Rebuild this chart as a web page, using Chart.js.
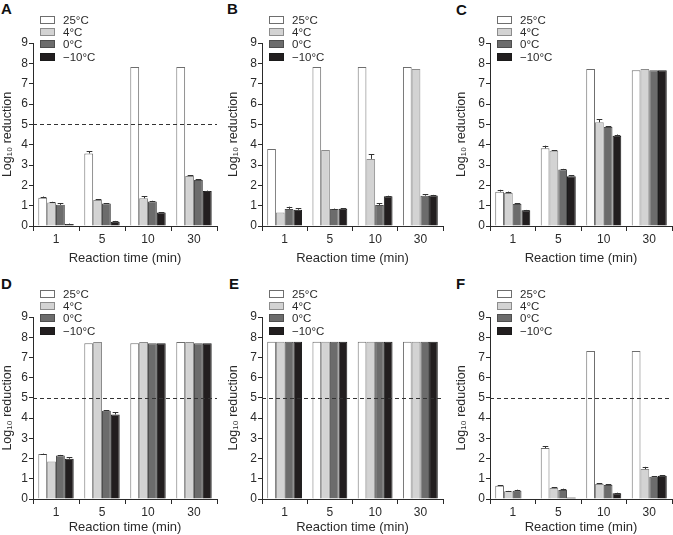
<!DOCTYPE html>
<html><head><meta charset="utf-8">
<script src="https://cdn.jsdelivr.net/npm/chart.js@4"></script>
<style>
html,body{margin:0;padding:0;background:#fff}
body{width:673px;height:535px;position:relative;overflow:hidden;font-family:"Liberation Sans",Arial,sans-serif}
canvas{position:absolute}
.lbl{position:absolute;font-weight:bold;font-size:15px;line-height:1;color:#111}
</style></head><body>
<div class="lbl" style="left:1px;top:1px">A</div>
<div class="lbl" style="left:227px;top:1px">B</div>
<div class="lbl" style="left:456px;top:2px">C</div>
<div class="lbl" style="left:1px;top:276px">D</div>
<div class="lbl" style="left:229px;top:276px">E</div>
<div class="lbl" style="left:456px;top:276px">F</div>
<canvas id="cA" width="224" height="267" style="left:0;top:0"></canvas>
<canvas id="cB" width="224" height="267" style="left:224px;top:0"></canvas>
<canvas id="cC" width="225" height="267" style="left:448px;top:0"></canvas>
<canvas id="cD" width="224" height="268" style="left:0;top:267px"></canvas>
<canvas id="cE" width="224" height="268" style="left:224px;top:267px"></canvas>
<canvas id="cF" width="225" height="268" style="left:448px;top:267px"></canvas>
<script>
// ---- data ----
const categories = ['1', '5', '10', '30'];
const seriesLabels = ['25°C', '4°C', '0°C', '−10°C'];
const yTicks = [0, 1, 2, 3, 4, 5, 6, 7, 8, 9];
const xTitle = 'Reaction time (min)';
const yTitle = 'Log₁₀ reduction';
const threshold = 5;

// Panel A
const A_25 = [1.39, 3.57, 7.82, 7.82];
const A_4 = [1.16, 1.28, 1.36, 2.46];
const A_0 = [1.04, 1.11, 1.21, 2.26];
const A_m10 = [0.10, 0.21, 0.66, 1.72];
const A_err25 = [0.06, 0.11, 0, 0];
const A_err4 = [0.03, 0.04, 0.11, 0.04];
const A_err0 = [0.07, 0.02, 0.03, 0.03];
const A_errm10 = [0.02, 0.04, 0.02, 0.02];
// Panel B
const B_25 = [3.79, 7.82, 7.82, 7.82];
const B_4 = [0.67, 3.74, 3.30, 7.72];
const B_0 = [0.84, 0.84, 1.03, 1.49];
const B_m10 = [0.80, 0.85, 1.46, 1.50];
const B_err25 = [0, 0, 0, 0];
const B_err4 = [0, 0, 0.23, 0];
const B_err0 = [0.11, 0.02, 0.08, 0.08];
const B_errm10 = [0.08, 0.03, 0.03, 0.03];
// Panel C
const C_25 = [1.69, 3.82, 7.72, 7.66];
const C_4 = [1.62, 3.70, 5.10, 7.72];
const C_0 = [1.08, 2.78, 4.87, 7.66];
const C_m10 = [0.77, 2.45, 4.44, 7.66];
const C_err25 = [0.09, 0.13, 0, 0];
const C_err4 = [0.07, 0.03, 0.14, 0];
const C_err0 = [0.03, 0.03, 0.03, 0];
const C_errm10 = [0.02, 0.04, 0.06, 0];
// Panel D
const D_25 = [2.23, 7.70, 7.70, 7.76];
const D_4 = [1.85, 7.76, 7.76, 7.76];
const D_0 = [2.15, 4.36, 7.70, 7.70];
const D_m10 = [1.99, 4.18, 7.70, 7.70];
const D_err25 = [0.02, 0, 0, 0];
const D_err4 = [0, 0, 0, 0];
const D_err0 = [0.03, 0.03, 0, 0];
const D_errm10 = [0.08, 0.10, 0, 0];
// Panel E
const E_25 = [7.78, 7.78, 7.78, 7.78];
const E_4 = [7.78, 7.78, 7.78, 7.78];
const E_0 = [7.78, 7.78, 7.78, 7.78];
const E_m10 = [7.78, 7.78, 7.78, 7.78];
const E_err = [0, 0, 0, 0];
// Panel F
const F_25 = [0.66, 2.52, 7.32, 7.32];
const F_4 = [0.38, 0.54, 0.74, 1.48];
const F_0 = [0.41, 0.44, 0.69, 1.10];
const F_m10 = [0, 0.08, 0.28, 1.15];
const F_err25 = [0.03, 0.08, 0, 0];
const F_err4 = [0.02, 0.03, 0.03, 0.11];
const F_err0 = [0.05, 0.07, 0.03, 0.02];
const F_errm10 = [0, 0, 0.03, 0.02];

// ---- styles ----
const fills = ['#ffffff', '#d3d3d3', '#6c6c6c', '#221e1f'];
const borders = ['#6e6e6e', '#8c8c8c', '#4e4e4e', '#1a1a1a'];
const ink = '#2a2a2a';
const FONT = '"Liberation Sans", Arial, sans-serif';

const errPlugin = {
  id: 'errBars',
  afterDatasetsDraw(chart) {
    const ctx = chart.ctx, y = chart.scales.y;
    ctx.save();
    ctx.strokeStyle = '#333';
    ctx.lineWidth = 1;
    chart.data.datasets.forEach((ds, i) => {
      const meta = chart.getDatasetMeta(i);
      meta.data.forEach((el, j) => {
        const e = ds.errors[j];
        if (!e || !ds.data[j]) return;
        const top = y.getPixelForValue(ds.data[j] + e);
        const x = Math.round(el.x) + 0.5;
        const w = el.width * 0.32;
        ctx.beginPath();
        ctx.moveTo(x, el.y);
        ctx.lineTo(x, top);
        ctx.moveTo(x - w, Math.round(top) + 0.5);
        ctx.lineTo(x + w, Math.round(top) + 0.5);
        ctx.stroke();
      });
    });
    ctx.restore();
  }
};

const refPlugin = {
  id: 'refLine',
  afterDatasetsDraw(chart, args, opts) {
    if (opts.value == null) return;
    const ctx = chart.ctx, ca = chart.chartArea;
    const yy = Math.round(chart.scales.y.getPixelForValue(opts.value)) + 0.5;
    ctx.save();
    ctx.strokeStyle = '#333';
    ctx.lineWidth = 1;
    ctx.setLineDash([4, 3]);
    ctx.beginPath();
    ctx.moveTo(ca.left, yy);
    ctx.lineTo(ca.right, yy);
    ctx.stroke();
    ctx.restore();
  }
};

const legendPlugin = {
  id: 'boxLegend',
  afterDraw(chart) {
    const ctx = chart.ctx, ca = chart.chartArea;
    const x0 = Math.round(ca.left) + 7;
    ctx.save();
    ctx.font = '11.5px ' + FONT;
    ctx.textBaseline = 'middle';
    chart.data.datasets.forEach((ds, i) => {
      const cy = Math.round(ca.top - 23 + i * 12.2);
      ctx.fillStyle = ds.backgroundColor;
      ctx.fillRect(x0, cy - 4, 15, 8);
      ctx.strokeStyle = ds.borderColor;
      ctx.lineWidth = 1;
      ctx.strokeRect(x0 + 0.5, cy - 3.5, 14, 7);
      ctx.fillStyle = ink;
      ctx.fillText(ds.label, x0 + 23, cy + 0.5);
    });
    ctx.restore();
  }
};

function makeChart(id, series, errs, cfg) {
  new Chart(document.getElementById(id), {
    type: 'bar',
    data: {
      labels: categories,
      datasets: seriesLabels.map((l, i) => ({
        label: l,
        data: series[i],
        errors: errs[i],
        backgroundColor: fills[i],
        borderColor: borders[i],
        borderWidth: 1,
        categoryPercentage: 0.77,
        barPercentage: 1.0
      }))
    },
    options: {
      responsive: false,
      animation: false,
      devicePixelRatio: 1,
      layout: { padding: { top: cfg.top, right: cfg.right, left: cfg.left, bottom: 0 } },
      plugins: {
        legend: { display: false },
        tooltip: { enabled: false },
        refLine: { value: cfg.ref ? threshold : null }
      },
      scales: {
        x: {
          grid: { display: true, drawOnChartArea: false, drawTicks: true, tickLength: 5, color: ink, offset: true },
          border: { color: ink, width: 1 },
          ticks: { color: ink, font: { size: 12, family: FONT }, padding: 1, maxRotation: 0 },
          title: { display: true, text: xTitle, color: ink, font: { size: 13, family: FONT }, padding: { top: 0, bottom: cfg.tb } },
          afterFit: s => { s.height = cfg.xh; }
        },
        y: {
          min: 0, max: 9,
          afterBuildTicks: s => { s.ticks = yTicks.map(v => ({ value: v })); },
          grid: { display: true, drawOnChartArea: false, drawTicks: true, tickLength: 4, color: ink },
          border: { color: ink, width: 1 },
          ticks: { color: ink, font: { size: 12, family: FONT }, padding: 1 },
          title: { display: true, text: yTitle, color: ink, font: { size: 12.5, family: FONT }, padding: { top: 0, bottom: 0 } },
          afterFit: s => { s.width = cfg.yw; }
        }
      }
    },
    plugins: [errPlugin, refPlugin, legendPlugin]
  });
}

makeChart('cA', [A_25, A_4, A_0, A_m10], [A_err25, A_err4, A_err0, A_errm10], { top: 43, right: 7, left: 0, yw: 33, xh: 41, tb: 1, ref: true });
makeChart('cB', [B_25, B_4, B_0, B_m10], [B_err25, B_err4, B_err0, B_errm10], { top: 43, right: 5, left: 2, yw: 36, xh: 41, tb: 1, ref: false });
makeChart('cC', [C_25, C_4, C_0, C_m10], [C_err25, C_err4, C_err0, C_errm10], { top: 43, right: 1, left: 6, yw: 36, xh: 41, tb: 1, ref: false });
makeChart('cD', [D_25, D_4, D_0, D_m10], [D_err25, D_err4, D_err0, D_errm10], { top: 50, right: 7, left: 0, yw: 33, xh: 36, tb: 0, ref: true });
makeChart('cE', [E_25, E_4, E_0, E_m10], [E_err, E_err, E_err, E_err], { top: 50, right: 5, left: 2, yw: 36, xh: 36, tb: 0, ref: true });
makeChart('cF', [F_25, F_4, F_0, F_m10], [F_err25, F_err4, F_err0, F_errm10], { top: 50, right: 1, left: 6, yw: 36, xh: 36, tb: 0, ref: true });
</script>
</body></html>
